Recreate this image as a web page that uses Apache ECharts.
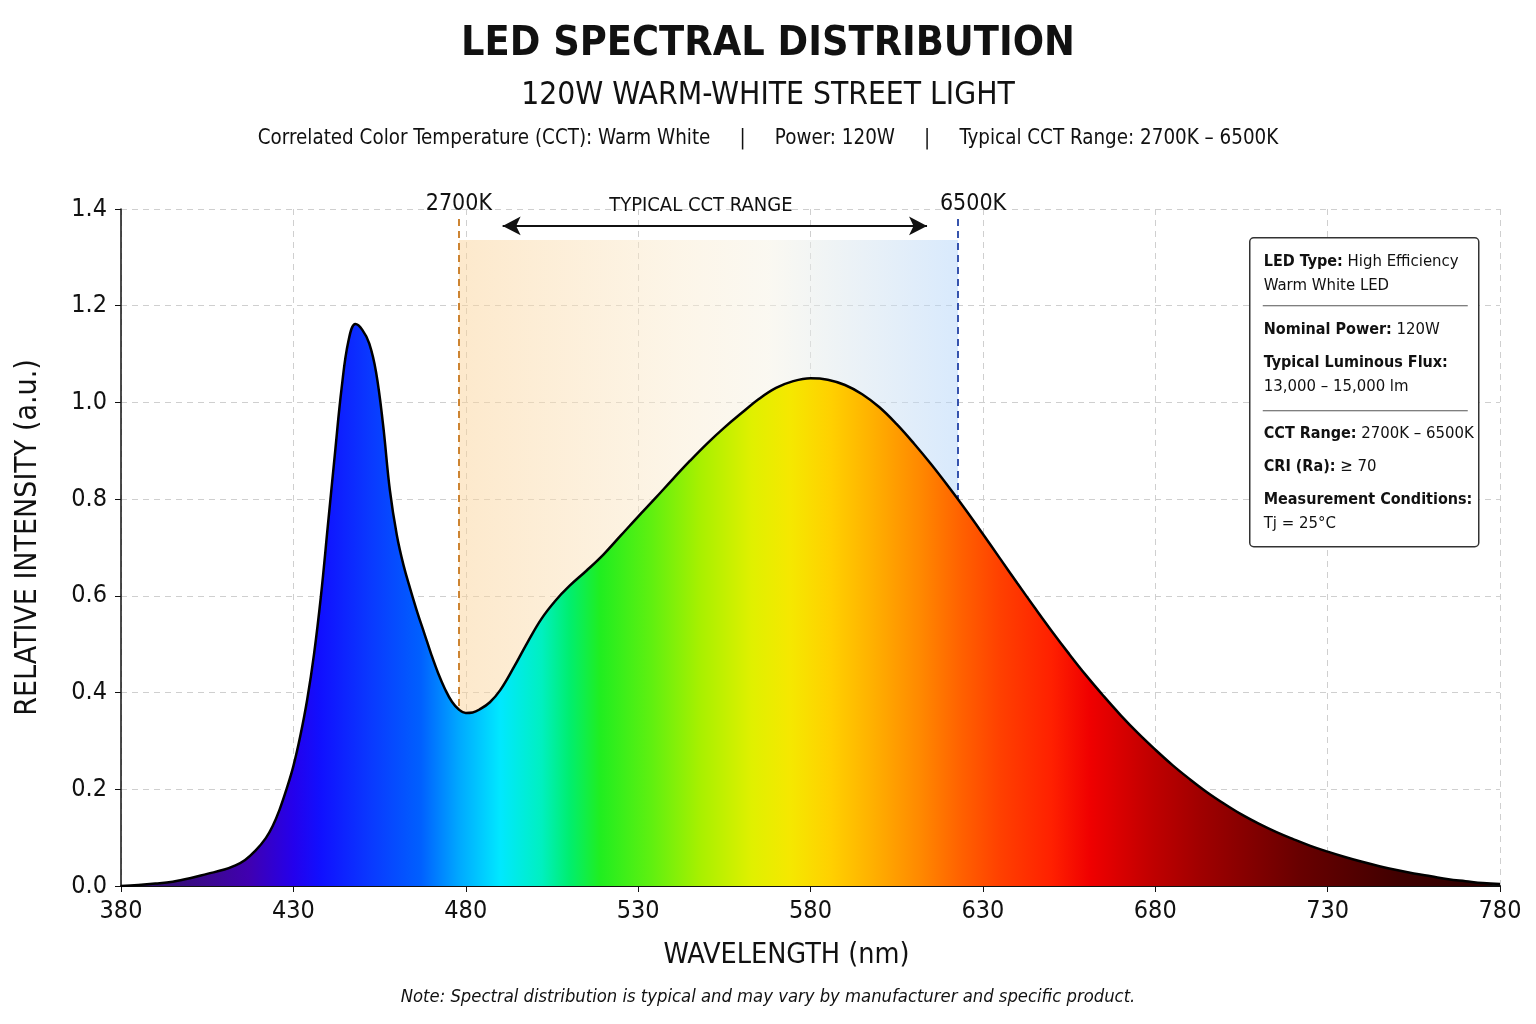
<!DOCTYPE html>
<html>
<head>
<meta charset="utf-8">
<title>LED Spectral Distribution</title>
<script src="https://cdn.jsdelivr.net/npm/echarts@6/dist/echarts.min.js"></script>
<style>
  html, body { margin: 0; padding: 0; background: #fff; }
  #chart { width: 1536px; height: 1024px; }
</style>
</head>
<body>
<div id="chart"></div>
<script>
// spectrum (nm, relative intensity)
const wavelengths = [380, 385, 390, 395, 400, 405, 410, 413, 416, 419, 422, 424, 426, 428, 430, 432, 434, 436, 438, 440, 442, 444, 446, 448, 450, 452, 454, 456, 458, 460, 462, 464, 466, 468, 470, 472, 474, 476, 478, 480, 482, 484, 487, 490, 494, 498, 502, 506, 510, 515, 520, 525, 530, 535, 540, 545, 550, 555, 560, 565, 570, 575, 580, 585, 590, 595, 600, 605, 610, 615, 620, 625, 630, 635, 640, 645, 650, 655, 660, 665, 670, 675, 680, 685, 690, 695, 700, 705, 710, 715, 720, 725, 730, 735, 740, 745, 750, 755, 760, 765, 770, 775, 780];
const intensity = [0.000, 0.002, 0.005, 0.009, 0.016, 0.025, 0.034, 0.042, 0.054, 0.073, 0.099, 0.124, 0.158, 0.200, 0.248, 0.310, 0.385, 0.480, 0.600, 0.745, 0.890, 1.030, 1.128, 1.162, 1.150, 1.122, 1.062, 0.955, 0.818, 0.726, 0.662, 0.612, 0.565, 0.522, 0.479, 0.440, 0.407, 0.381, 0.365, 0.358, 0.359, 0.365, 0.380, 0.405, 0.453, 0.505, 0.553, 0.590, 0.620, 0.652, 0.686, 0.725, 0.764, 0.802, 0.841, 0.879, 0.915, 0.948, 0.978, 1.007, 1.030, 1.044, 1.050, 1.047, 1.036, 1.017, 0.990, 0.955, 0.915, 0.872, 0.826, 0.778, 0.728, 0.677, 0.626, 0.576, 0.527, 0.480, 0.435, 0.393, 0.353, 0.316, 0.282, 0.250, 0.221, 0.194, 0.170, 0.148, 0.129, 0.112, 0.097, 0.083, 0.071, 0.060, 0.050, 0.041, 0.033, 0.026, 0.020, 0.014, 0.010, 0.006, 0.004];

// fill colours along the wavelength axis
const spectrumStops = [
  [380, '#2a0a55'], [388, '#30106a'], [405, '#3c0890'], [417, '#4000b0'], [430, '#2400ec'],
  [438, '#1010ff'], [452, '#0a38ff'], [467, '#0060ff'], [478, '#00a8ff'], [490, '#00e8ff'],
  [502, '#00f0c0'], [510, '#00ee70'], [519, '#20ee20'], [534, '#60f010'], [548, '#a8f000'],
  [563, '#e0f000'], [574, '#f5e800'], [586, '#ffd000'], [598, '#ffb000'], [612, '#ff8800'],
  [624, '#ff6000'], [635, '#ff4000'], [650, '#ff2000'], [661, '#f00000'], [679, '#c00000'],
  [693, '#a00000'], [722, '#680000'], [751, '#400000'], [780, '#2a0000']
];

const xTicks = [380, 780, 50];       // min, max, step
const yTicks = [0, 1.4, 0.2];
const cctWarm = 478;                 // 2700K marker
const cctCool = 622.8;               // 6500K marker
const cctTop = 1.336;                // top of shaded band
const markerTop = 1.381;
const arrowSpan = [490.7, 613.8];
const arrowLevel = 1.365;

const FONT = '"Liberation Sans Narrow", "DejaVu Sans Condensed", "Roboto Condensed", "Noto Sans", sans-serif';

const chart = echarts.init(document.getElementById('chart'));

const span = xTicks[1] - xTicks[0];
const fill = new echarts.graphic.LinearGradient(0, 0, 1, 0,
  spectrumStops.map(s => ({ offset: (s[0] - xTicks[0]) / span, color: s[1] })));

const band = new echarts.graphic.LinearGradient(0, 0, 1, 0, [
  { offset: 0, color: 'rgba(251,211,153,0.5)' },
  { offset: 0.45, color: 'rgba(250,236,210,0.5)' },
  { offset: 0.62, color: 'rgba(246,242,228,0.5)' },
  { offset: 1, color: 'rgba(178,212,250,0.5)' }
]);

// info box rows: [top, rich text]
const infoRows = [
  [12, '{b|LED Type:} High Efficiency\nWarm White LED'],
  [80, '{b|Nominal Power:} 120W'],
  [113, '{b|Typical Luminous Flux:}\n13,000 – 15,000 lm'],
  [184, '{b|CCT Range:} 2700K – 6500K'],
  [217, '{b|CRI (Ra):} ≥ 70'],
  [250, '{b|Measurement Conditions:}\nTj = 25°C']
];
const infoChildren = [
  { type: 'rect', z: 100, shape: { x: 0, y: 0, width: 229, height: 309, r: 4 },
    style: { fill: '#fff', stroke: '#333', lineWidth: 1.5 } },
  { type: 'line', z: 101, shape: { x1: 13, y1: 68, x2: 218, y2: 68 }, style: { stroke: '#555', lineWidth: 1.2 } },
  { type: 'line', z: 101, shape: { x1: 13, y1: 173, x2: 218, y2: 173 }, style: { stroke: '#555', lineWidth: 1.2 } }
].concat(infoRows.map(r => ({
  type: 'text', z: 101, left: 14, top: r[0],
  style: {
    text: r[1],
    rich: { b: { fontWeight: 'bold', fontFamily: FONT, fontSize: 16, fill: '#111', lineHeight: 24 } },
    fontFamily: FONT, fontSize: 16.6, fill: '#111', lineHeight: 24
  }
})));

const option = {
  backgroundColor: '#fff',
  textStyle: { fontFamily: FONT },
  animation: false,
  title: [
    { text: 'LED SPECTRAL DISTRIBUTION', left: 'center', top: 19,
      textStyle: { fontFamily: FONT, fontSize: 41, fontWeight: 'bold', color: '#111' } },
    { text: '120W WARM-WHITE STREET LIGHT', left: 'center', top: 75,
      textStyle: { fontFamily: FONT, fontSize: 31.5, fontWeight: 'normal', color: '#111' } },
    { text: 'Correlated Color Temperature (CCT): Warm White     |     Power: 120W     |     Typical CCT Range: 2700K – 6500K',
      left: 'center', top: 124,
      textStyle: { fontFamily: FONT, fontSize: 20.4, fontWeight: 'normal', color: '#111' } }
  ],
  grid: { left: 121, right: 36, top: 209, bottom: 138 },
  xAxis: {
    type: 'value', min: xTicks[0], max: xTicks[1], interval: xTicks[2],
    name: 'WAVELENGTH (nm)', nameLocation: 'middle', nameGap: 55,
    nameTextStyle: { fontFamily: FONT, fontSize: 28.5, color: '#111', padding: [0, 48, 0, 0] },
    axisLine: { lineStyle: { color: '#111', width: 2 } },
    axisTick: { show: true, length: 6, lineStyle: { color: '#111' } },
    axisLabel: { fontFamily: FONT, fontSize: 25, color: '#111', margin: 13 },
    splitLine: { show: true, lineStyle: { color: '#cfcfcf', type: [6, 5] } }
  },
  yAxis: {
    type: 'value', min: yTicks[0], max: yTicks[1], interval: yTicks[2],
    name: 'RELATIVE INTENSITY (a.u.)', nameLocation: 'middle', nameGap: 78,
    nameTextStyle: { fontFamily: FONT, fontSize: 30, color: '#111', padding: [0, 0, 0, 20] },
    axisLine: { show: true, lineStyle: { color: '#111', width: 1.5 } },
    axisTick: { show: true, length: 6, lineStyle: { color: '#111' } },
    axisLabel: { fontFamily: FONT, fontSize: 25, color: '#111', margin: 14,
      formatter: v => v.toFixed(1) },
    splitLine: { show: true, lineStyle: { color: '#cfcfcf', type: [6, 5] } }
  },
  series: [
    {
      name: 'annotations', type: 'line', data: [], z: 1, silent: true,
      markArea: {
        z: 1, silent: true,
        itemStyle: { color: band },
        data: [[{ coord: [cctWarm, 0] }, { coord: [cctCool, cctTop] }]]
      },
      markLine: {
        z: 2, silent: true, symbol: 'none', animation: false,
        data: [
          [{ coord: [cctWarm, 0], lineStyle: { color: '#c8781e', type: [7, 5], width: 1.8 },
             label: { show: true, position: 'end', formatter: '2700K', distance: 3,
               fontFamily: FONT, fontSize: 23, color: '#111' } },
           { coord: [cctWarm, markerTop] }],
          [{ coord: [cctCool, 0], lineStyle: { color: '#2343a5', type: [7, 5], width: 1.8 },
             label: { show: true, position: 'end', formatter: '6500K', distance: 3,
               padding: [0, 0, 0, 30], fontFamily: FONT, fontSize: 23, color: '#111' } },
           { coord: [cctCool, markerTop] }],
          [{ coord: [arrowSpan[0], arrowLevel], symbol: 'arrow', symbolSize: [14, 18],
             lineStyle: { color: '#111', type: 'solid', width: 2 },
             label: { show: true, position: 'middle', formatter: 'TYPICAL CCT RANGE', distance: 10,
               padding: [0, 28, 0, 0], fontFamily: FONT, fontSize: 20, color: '#111' } },
           { coord: [arrowSpan[1], arrowLevel], symbol: 'arrow', symbolSize: [14, 18] }]
        ]
      }
    },
    {
      name: 'Spectrum', type: 'line', z: 3,
      data: wavelengths.map((w, i) => [w, intensity[i]]),
      smooth: 0.4, showSymbol: false, symbol: 'none',
      lineStyle: { color: '#000', width: 2.5 },
      areaStyle: { color: fill, opacity: 1 }
    }
  ],
  graphic: [
    { type: 'group', left: 1249, top: 237, z: 100, children: infoChildren },
    {
      type: 'text', left: 'center', top: 988, z: 100,
      style: { text: 'Note: Spectral distribution is typical and may vary by manufacturer and specific product.',
        fontFamily: FONT, fontSize: 18.3, fontStyle: 'italic', fill: '#111' }
    }
  ]
};

chart.setOption(option);
</script>
</body>
</html>
